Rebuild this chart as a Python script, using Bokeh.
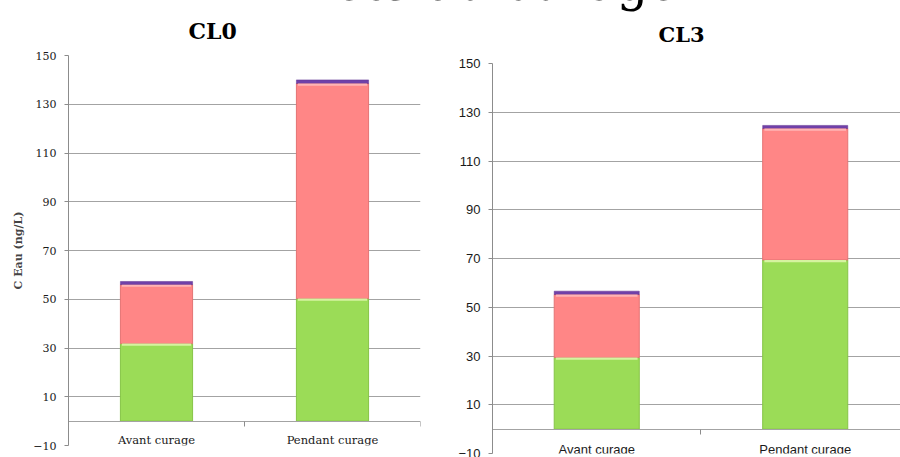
from bokeh.plotting import figure
from bokeh.models import Range1d, FixedTicker, LinearAxis, Div
from bokeh.layouts import column, row
from bokeh.embed import file_html
from bokeh.resources import INLINE

# ---- data -------------------------------------------------------------
categories = ["Avant curage", "Pendant curage"]
y_ticks = [-10, 10, 30, 50, 70, 90, 110, 130, 150]

cl0_green = [31.8, 50.3]
cl0_pink = [24.2, 88.2]
cl0_purple = [1.3, 1.5]

cl3_green = [29.4, 69.4]
cl3_pink = [25.8, 53.9]
cl3_purple = [1.4, 1.3]

# ---- styling ------------------------------------------------------------
GREEN, GREEN_EDGE, GREEN_HI = "#9bdc57", "#86c447", "#d6f3a0"
PINK, PINK_EDGE, PINK_HI = "#ff8686", "#e47373", "#ffb4b4"
PURPLE, PURPLE_EDGE = "#7040a8", "#5e3090"
GRID = "#a3a3a3"
SERIF = "DejaVu Serif"
SANS = "Liberation Sans"


def stacked_panel(width, height, x_end, borders, bar_width, green, pink, purple,
                  tick_font, tick_size, cat_font, cat_size, cat_standoff, sep_ticks):
    left, right, top, bottom = borders
    p = figure(width=width, height=height, output_backend="svg", toolbar_location=None,
               x_range=Range1d(0, x_end), y_range=Range1d(-10, 150), margin=0,
               frame_align=False)
    p.min_border_left = left
    p.min_border_right = right
    p.min_border_top = top
    p.min_border_bottom = bottom
    p.outline_line_color = None
    p.background_fill_color = "white"
    p.border_fill_color = "white"
    p.xgrid.visible = False

    yt = FixedTicker(ticks=y_ticks)
    p.yaxis.ticker = yt
    p.ygrid.ticker = yt
    p.ygrid.grid_line_color = GRID
    p.ygrid.grid_line_width = 1
    p.yaxis.axis_line_color = "#8c8c8c"
    p.yaxis.major_tick_line_color = "#8c8c8c"
    p.yaxis.major_tick_out = 4
    p.yaxis.major_tick_in = 0
    p.yaxis.minor_tick_line_color = None
    p.yaxis.major_label_standoff = 8
    p.yaxis.major_label_text_font = tick_font
    p.yaxis.major_label_text_font_size = tick_size
    p.yaxis.major_label_text_color = "#1a1a1a"

    # category labels sit under the zero line
    xs = [i + 0.5 for i in range(len(categories))]
    xa = p.xaxis[0]
    xa.ticker = FixedTicker(ticks=xs)
    xa.major_label_overrides = {x: c for x, c in zip(xs, categories)}
    xa.fixed_location = 0
    xa.axis_line_color = GRID
    xa.major_tick_line_color = None
    xa.major_tick_out = 0
    xa.major_tick_in = 0
    xa.minor_tick_line_color = None
    xa.minor_tick_out = 0
    xa.major_label_standoff = cat_standoff
    xa.major_label_text_font = cat_font
    xa.major_label_text_font_size = cat_size
    xa.major_label_text_color = "#1a1a1a"

    # separator ticks between the categories
    sep = LinearAxis(ticker=FixedTicker(ticks=sep_ticks), fixed_location=0,
                     axis_line_color=None, major_tick_line_color="#8c8c8c",
                     major_tick_out=5, major_tick_in=0, minor_tick_line_color=None,
                     major_label_overrides={t: "" for t in sep_ticks})
    p.add_layout(sep, "below")

    g_top = [g for g in green]
    p_top = [g + k for g, k in zip(green, pink)]
    u_top = [t + u for t, u in zip(p_top, purple)]

    p.vbar(x=xs, width=bar_width, bottom=0, top=g_top,
           fill_color=GREEN, line_color=GREEN_EDGE, line_width=1)
    p.vbar(x=xs, width=bar_width, bottom=g_top, top=p_top,
           fill_color=PINK, line_color=PINK_EDGE, line_width=1)
    p.vbar(x=xs, width=bar_width, bottom=p_top, top=u_top,
           fill_color=PURPLE, line_color=PURPLE_EDGE, line_width=0.5)
    # glossy highlight along the top of each segment
    p.vbar(x=xs, width=bar_width * 0.96, bottom=[t - 0.9 for t in g_top], top=g_top,
           fill_color=GREEN_HI, line_color=None)
    p.vbar(x=xs, width=bar_width * 0.96, bottom=[t - 0.9 for t in p_top], top=p_top,
           fill_color=PINK_HI, line_color=None)
    return p


def panel_title(p, text, offset, standoff, valign, size, line_height=1.0):
    p.title.text = text
    p.title.align = "left"
    p.title.offset = offset
    p.title.standoff = standoff
    p.title.vertical_align = valign
    p.title.text_font = SERIF
    p.title.text_font_style = "bold"
    p.title.text_font_size = size
    p.title.text_line_height = line_height
    p.title.text_color = "#000000"


left = stacked_panel(440, 457, 2.0, (68, 20, 55, 12), 0.41,
                     cl0_green, cl0_pink, cl0_purple,
                     SERIF, "11px", SERIF, "11.5px", 12, [1, 2])
left.yaxis.axis_label = "C Eau (ng/L)"
left.yaxis.axis_label_text_font = SERIF
left.yaxis.axis_label_text_font_style = "bold"
left.yaxis.axis_label_text_font_size = "11px"
left.yaxis.axis_label_standoff = 5
panel_title(left, "CL0", 120, 20, "top", "22px", 1.25)

right = stacked_panel(460, 457, 1.957, (52, 0, 63, 4), 0.408,
                      cl3_green, cl3_pink, cl3_purple,
                      SANS, "13px", SANS, "13px", 13, [1, 2])
panel_title(right, "CL3", 166, 34, "bottom", "21px")

# main heading, drawn over the top edge of both panels
heading = Div(
    text='<div style="position:relative; left:263px; top:-41px; '
         "font-family:'DejaVu Serif'; font-size:49.5px; line-height:49px; "
         'white-space:nowrap; color:#000;">Effets du curage</div>',
    width=900, height=0, margin=0,
    styles={"overflow": "visible", "position": "relative", "z-index": "10"})

layout = column(heading, row(left, right, margin=0, spacing=0), margin=0, spacing=0)

with open("out.html", "w") as f:
    f.write(file_html(layout, INLINE))
